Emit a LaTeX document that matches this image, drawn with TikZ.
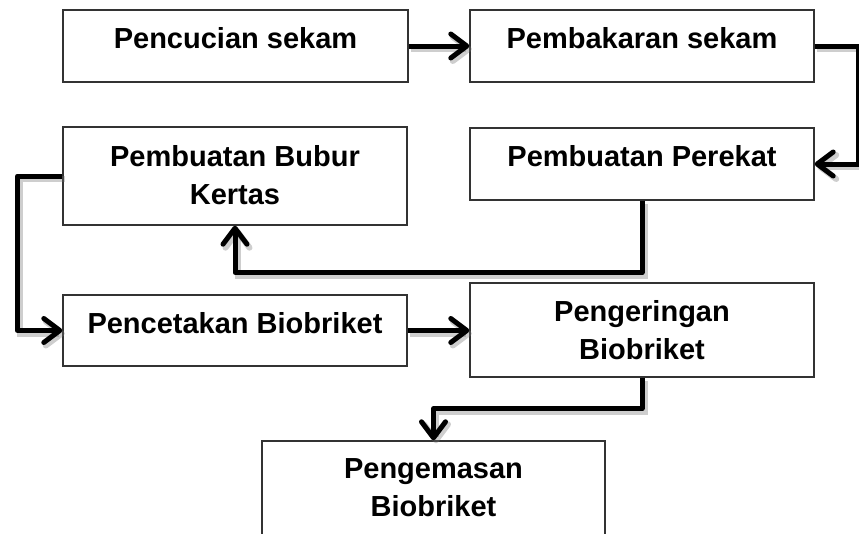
\documentclass[tikz,border=0pt]{standalone}
\usepackage{fontspec}
\setmainfont{Liberation Sans}
\usetikzlibrary{arrows.meta,calc}
\begin{document}
\begin{tikzpicture}[x=1pt,y=-1pt,
  box/.style={draw=black!80, line width=1.4pt, fill=white, inner sep=0pt, rectangle},
  lbl/.style={font=\fontsize{29}{38}\selectfont\bfseries, inner sep=0pt, anchor=base},
  flowbase/.style={line width=5pt, line join=round, -{Straight Barb[length=16pt,width=24pt,line cap=round,round]}},
  flow/.style={flowbase, draw=black,
    preaction={draw=black!55, opacity=0.35, line width=6pt, transform canvas={shift={(2.5pt,-3pt)}}}}]
\useasboundingbox (0,0) rectangle (859,533);
\clip (0,0) rectangle (859,533);
% boxes
\node[box, minimum width=345pt, minimum height=72pt] (b1) at (235.5,46) {};
\node[box, minimum width=344pt, minimum height=72pt] (b2) at (642,46) {};
\node[box, minimum width=344pt, minimum height=98pt] (b3) at (235,176) {};
\node[box, minimum width=344pt, minimum height=72pt] (b4) at (642,164) {};
\node[box, minimum width=344pt, minimum height=71pt] (b5) at (235,330.5) {};
\node[box, minimum width=344pt, minimum height=94pt] (b6) at (642,330) {};
\node[box, minimum width=343pt, minimum height=110pt] (b7) at (433.5,496) {};
% labels
\node[lbl] (t1) at (235.5,48) {Pencucian sekam};
\node[lbl] (t2) at (642,48) {Pembakaran sekam};
\node[lbl] (t3a) at (235,166) {Pembuatan Bubur};
\node[lbl] (t3b) at (235,204) {Kertas};
\node[lbl] (t4) at (642,166) {Pembuatan Perekat};
\node[lbl] (t5) at (235,333) {Pencetakan Biobriket};
\node[lbl] (t6a) at (642,321) {Pengeringan};
\node[lbl] (t6b) at (642,359) {Biobriket};
\node[lbl] (t7a) at (433.5,478) {Pengemasan};
\node[lbl] (t7b) at (433.5,516) {Biobriket};
% connectors
\draw[flow] (b1.east) -- (b2.west);
\draw[flow] (b2.east) -- ++(44,0) |- (b4.east);
\draw[flow] (b4.south) -- ++(0,72) -| (b3.south);
\draw[flow] (b3.west) -- ++(-45,0) |- (b5.west);
\draw[flow] (b5.east) -- (b5.east -| b6.west);
\draw[flow] (b6.south) -- ++(0,31) -| (b7.north);
\end{tikzpicture}
\end{document}
